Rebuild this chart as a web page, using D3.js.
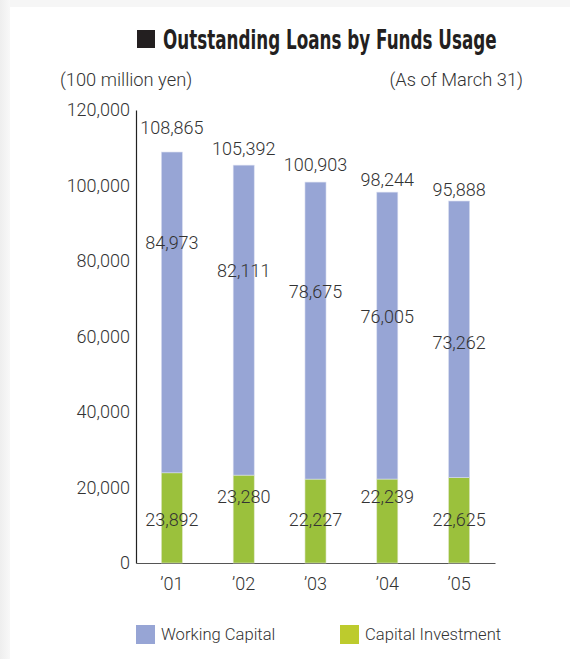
<!DOCTYPE html>
<html>
<head>
<meta charset="utf-8">
<title>Outstanding Loans by Funds Usage</title>
<script src="https://cdn.jsdelivr.net/npm/d3@7"></script>
<style>
  body { margin: 0; background: #fff; }
  text { font-family: Roboto, "Liberation Sans", sans-serif; font-weight: 300; fill: #333; }
  .title { font-family: "Liberation Sans Narrow", "DejaVu Sans Condensed", sans-serif; font-weight: bold; fill: #231f20; }
</style>
</head>
<body>
<script>
  // data (100 million yen, as of March 31)
  var years = ["\u201901", "\u201902", "\u201903", "\u201904", "\u201905"];
  var workingCapital = [84973, 82111, 78675, 76005, 73262];
  var capitalInvestment = [23892, 23280, 22227, 22239, 22625];
  var totals = [108865, 105392, 100903, 98244, 95888];
  var yTicks = [0, 20000, 40000, 60000, 80000, 100000, 120000];

  // where the labels sit (layout only)
  var wcLabelAt = [85000, 77600, 71800, 65400, 58500];
  var totalLabelGap = [25, 17, 18, 13, 12];

  var width = 570, height = 659;
  var blue = "#97a5d5", green = "#9bc13c", legendGreen = "#bdcb2d";

  var svg = d3.select("body").append("svg").attr("width", width).attr("height", height);

  // faint page edge
  var defs = svg.append("defs");
  var gl = defs.append("linearGradient").attr("id", "edgeL");
  gl.append("stop").attr("offset", 0).attr("stop-color", "#eeeeee");
  gl.append("stop").attr("offset", 1).attr("stop-color", "#f8f8f8");
  svg.append("rect").attr("width", width).attr("height", height).attr("fill", "#f6f6f6");
  svg.append("rect").attr("width", 10).attr("height", height).attr("fill", "url(#edgeL)");
  svg.append("rect").attr("x", 10).attr("y", 7).attr("width", width - 10).attr("height", height - 7).attr("fill", "#fff");

  var x = d3.scaleBand().domain(years).range([136, 495]).paddingInner(0.707).paddingOuter(0.3535);
  var y = d3.scaleLinear().domain([0, 120000]).range([563, 110]);

  // title, squeezed to the width of the original
  svg.append("rect").attr("x", 137).attr("y", 30).attr("width", 18).attr("height", 18).attr("fill", "#231f20");
  var title = svg.append("text").attr("class", "title")
    .style("font-size", "27px").text("Outstanding Loans by Funds Usage");
  var sx = Math.min(1, 334 / title.node().getComputedTextLength());
  title.attr("transform", "translate(163,49) scale(" + sx + ",1)");

  svg.append("text").attr("x", 60).attr("y", 86).style("font-size", "18.3px").text("(100 million yen)");
  svg.append("text").attr("x", 523).attr("y", 86).attr("text-anchor", "end").style("font-size", "18.3px").text("(As of March 31)");

  // axes
  var yAxis = svg.append("g").attr("transform", "translate(136,0)")
    .call(d3.axisLeft(y).tickValues(yTicks).tickSize(0).tickPadding(6).tickFormat(d3.format(",")));
  yAxis.select(".domain").attr("stroke", "#222").attr("stroke-width", 1.2);
  yAxis.selectAll("text").style("font-size", "18px").style("font-family", "Roboto").attr("fill", "#333");

  var xAxis = svg.append("g").attr("transform", "translate(0,563)")
    .call(d3.axisBottom(x).tickSize(0).tickPadding(14).tickSizeOuter(0));
  xAxis.select(".domain").attr("stroke", "#555").attr("stroke-width", 1.2);
  xAxis.selectAll("text").style("font-size", "18px").style("font-family", "Roboto").attr("fill", "#333");

  // bars
  var bars = svg.append("g");
  bars.selectAll(".ci").data(years).enter().append("rect").attr("class", "ci")
    .attr("x", d => x(d)).attr("width", x.bandwidth())
    .attr("y", (d, i) => y(capitalInvestment[i]))
    .attr("height", (d, i) => y(0) - y(capitalInvestment[i]))
    .attr("fill", green).attr("stroke", "#dfe7c8").attr("stroke-width", 0.6);
  bars.selectAll(".wc").data(years).enter().append("rect").attr("class", "wc")
    .attr("x", d => x(d)).attr("width", x.bandwidth())
    .attr("y", (d, i) => y(capitalInvestment[i] + workingCapital[i]))
    .attr("height", (d, i) => y(capitalInvestment[i]) - y(capitalInvestment[i] + workingCapital[i]))
    .attr("fill", blue).attr("stroke", "#d9def0").attr("stroke-width", 0.6);

  // value labels
  var cx = d => x(d) + x.bandwidth() / 2;
  var labels = svg.append("g").attr("text-anchor", "middle").style("font-size", "18px");
  labels.selectAll(".tl").data(years).enter().append("text")
    .attr("x", cx).attr("y", (d, i) => y(totals[i]) - totalLabelGap[i]).attr("dy", "0.36em")
    .text((d, i) => d3.format(",")(totals[i]));
  labels.selectAll(".wl").data(years).enter().append("text")
    .attr("x", cx).attr("y", (d, i) => y(wcLabelAt[i])).attr("dy", "0.36em")
    .text((d, i) => d3.format(",")(workingCapital[i]));
  labels.selectAll(".cl").data(years).enter().append("text")
    .attr("x", cx).attr("y", (d, i) => i % 2 ? 497 : 520).attr("dy", "0.36em")
    .text((d, i) => d3.format(",")(capitalInvestment[i]));

  // legend
  var legend = [["Working Capital", blue, 136], ["Capital Investment", legendGreen, 340]];
  var lg = svg.append("g").selectAll("g").data(legend).enter().append("g")
    .attr("transform", d => "translate(" + d[2] + ",625)");
  lg.append("rect").attr("width", 19).attr("height", 19).attr("fill", d => d[1]);
  lg.append("text").attr("x", 25).attr("y", 9.5).attr("dy", "0.36em").style("font-size", "16.6px").text(d => d[0]);
</script>
</body>
</html>
